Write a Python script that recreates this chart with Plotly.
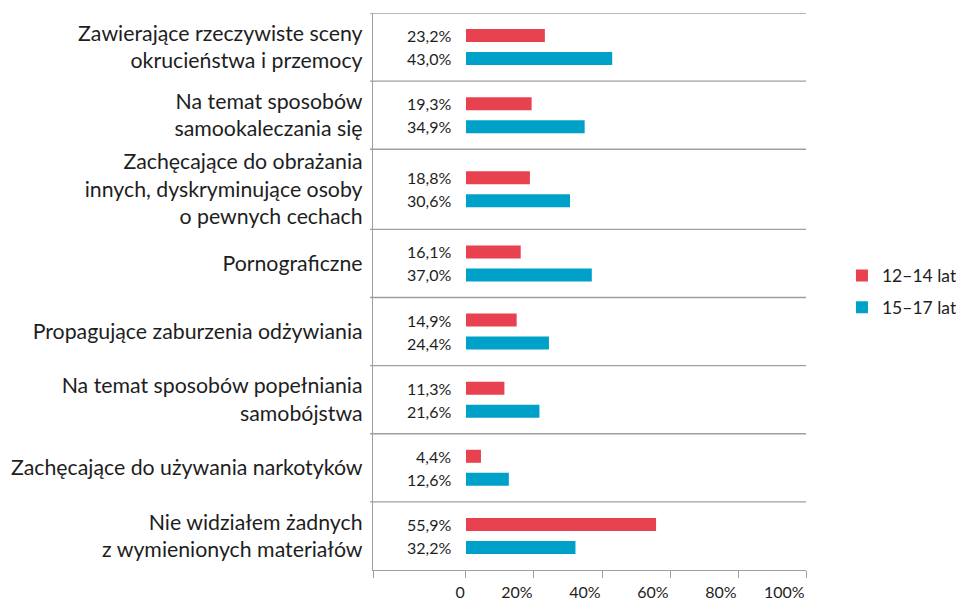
import plotly.graph_objects as go

categories = [
    "Zawierające rzeczywiste sceny<br>okrucieństwa i przemocy",
    "Na temat sposobów<br>samookaleczania się",
    "Zachęcające do obrażania<br>innych, dyskryminujące osoby<br>o pewnych cechach",
    "Pornograficzne",
    "Propagujące zaburzenia odżywiania",
    "Na temat sposobów popełniania<br>samobójstwa",
    "Zachęcające do używania narkotyków",
    "Nie widziałem żadnych<br>z wymienionych materiałów",
]
series_names = ["12–14 lat", "15–17 lat"]
values_12_14 = [23.2, 19.3, 18.8, 16.1, 14.9, 11.3, 4.4, 55.9]
values_15_17 = [43.0, 34.9, 30.6, 37.0, 24.4, 21.6, 12.6, 32.2]
x_tick_vals = [0, 20, 40, 60, 80, 100]
x_tick_text = ["0", "20%", "40%", "60%", "80%", "100%"]

RED = "#E8414F"
BLUE = "#00A1C8"
GRID = "#9f9f9f"
TXT = "#1e1e1e"
FONT = "Lato, 'Open Sans', sans-serif"

# Row layout (in y units = pixels): taller rows for 3-line labels
row_h = [80 if c.count("<br>") >= 2 else 68 for c in categories]
bounds = [0]
for h in row_h:
    bounds.append(bounds[-1] + h)
centers = [bounds[i] + row_h[i] / 2 for i in range(len(categories))]
off = 11.5
bar_w = 13
y_red = [c - off for c in centers]
y_blue = [c + off for c in centers]

x_min = -27.35

fig = go.Figure()
fig.add_trace(go.Bar(
    x=values_12_14, y=y_red, orientation="h", width=bar_w,
    marker=dict(color=RED, line=dict(width=0)), name=series_names[0],
    legendgroup="a",
))
fig.add_trace(go.Bar(
    x=values_15_17, y=y_blue, orientation="h", width=bar_w,
    marker=dict(color=BLUE, line=dict(width=0)), name=series_names[1],
    legendgroup="b",
))

def fmt(v):
    return f"{v:.1f}".replace(".", ",") + "%"

annotations = []
for vals, ys in ((values_12_14, y_red), (values_15_17, y_blue)):
    for v, y in zip(vals, ys):
        annotations.append(dict(
            x=0, y=y, xref="x", yref="y", text=fmt(v), showarrow=False,
            xanchor="right", yanchor="middle", xshift=-13,
            font=dict(family=FONT, size=16, color=TXT),
        ))

shapes = []
for b in bounds[:-1]:
    shapes.append(dict(
        type="line", xref="paper", yref="y", x0=-0.007, x1=1, y0=b, y1=b,
        line=dict(color=GRID, width=1.3),
    ))

# page body has an 8px margin, so the figure is sized to the remaining viewport
fig.update_layout(
    width=956, height=593,
    margin=dict(l=365, r=158, t=5, b=31, autoexpand=False),
    paper_bgcolor="white", plot_bgcolor="white",
    font=dict(family=FONT, color=TXT),
    barmode="overlay",
    showlegend=True,
    legend=dict(
        x=1.083, y=0.5, xanchor="left", yanchor="middle",
        font=dict(family=FONT, size=17.5, color=TXT),
        traceorder="grouped", tracegroupgap=6,
        bgcolor="rgba(0,0,0,0)",
    ),
    xaxis=dict(
        range=[x_min, 100], tickvals=[x_min] + x_tick_vals,
        ticktext=[""] + x_tick_text, showgrid=False, zeroline=False,
        showline=True, linecolor=GRID, linewidth=1.3,
        ticks="outside", ticklen=7, tickcolor=GRID, tickwidth=1.3,
        ticklabelposition="outside left", ticklabelstandoff=8,
        tickfont=dict(family=FONT, size=16, color=TXT),
        fixedrange=True, automargin=False,
    ),
    yaxis=dict(
        range=[bounds[-1], 0], tickvals=centers, ticktext=categories,
        showgrid=False, zeroline=False, showline=True, linecolor=GRID,
        linewidth=1.3, ticks="", ticklabelstandoff=5,
        tickfont=dict(family=FONT, size=21.3, color=TXT),
        fixedrange=True, automargin=False,
    ),
    annotations=annotations,
    shapes=shapes,
)

fig.write_html("out.html")
